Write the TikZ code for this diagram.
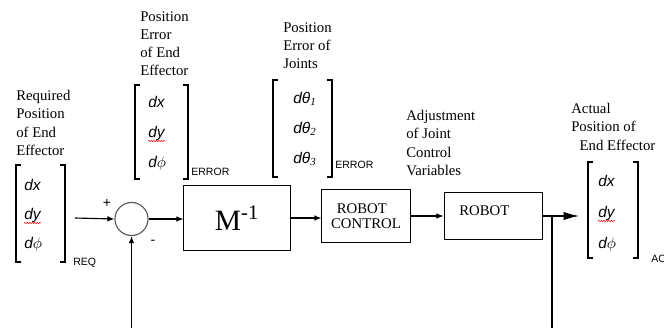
\documentclass[tikz,border=0pt]{standalone}
\usepackage{fontspec}
\setmainfont{Liberation Serif}
\newfontfamily\arialfont{Liberation Sans}
\usetikzlibrary{arrows.meta,decorations.pathmorphing}

\begin{document}
\begin{tikzpicture}[x=0.025cm,y=-0.025cm]
% Styles
\tikzstyle{caption text}=[align=left,anchor=north west,inner sep=0,font=\rmfamily\fontsize{10.5}{13}\selectfont]
\tikzstyle{entry}=[anchor=west,inner sep=0,text height=9pt,text depth=1pt,font=\arialfont\itshape\fontsize{11}{13}\selectfont]
\tikzstyle{tag}=[anchor=west,inner sep=0,font=\arialfont\fontsize{7.5}{9}\selectfont]
\tikzstyle{sign}=[inner sep=0,font=\arialfont\fontsize{10}{12}\selectfont]
\tikzstyle{bracket}=[line width=1.4pt]
\tikzstyle{block}=[draw,line width=0.7pt,inner sep=0]
\tikzstyle{signal}=[line width=0.8pt,-{Latex[length=5pt,width=4pt]}]
\tikzstyle{spell}=[red,line width=0.35pt,decorate,decoration={snake,amplitude=0.45pt,segment length=1.8pt}]

\useasboundingbox (0,0) rectangle (664,328);

% the brackets of the vectors
\foreach \l/\r/\t/\b in {16/65/165/262,135/188/85/179,273/332/80/177,588/638/162/258} {
\draw[bracket] (\l+5,\t) -- (\l,\t) -- (\l,\b) -- (\l+5,\b);
\draw[bracket] (\r-5,\t) -- (\r,\t) -- (\r,\b) -- (\r-5,\b);
}

% entries dx, dy, dphi
\foreach \v/\x/\ya/\yb/\yc in {req/24/185/214/243,perr/148/102/132/162,act/598/181/212/243} {
\node[entry] (\v-x) at (\x,\ya) {dx};
\node[entry] (\v-y) at (\x,\yb) {dy};
\node[entry] (\v-p) at (\x,\yc) {d$\phi$};
\draw[spell] ([yshift=-2.4pt]\v-y.base west) -- ([yshift=-2.4pt]\v-y.base east);
}
% joint entries
\foreach \i/\y in {1/98,2/128,3/158} {
\node[entry] (jnt-\i) at (293,\y) {dθ\textsubscript{\rmfamily\itshape\i}};
}

\node[tag] (req-tag) at (73,263) {REQ};
\node[tag] (perr-tag) at (191,172) {ERROR};
\node[tag] (jnt-tag) at (335,165) {ERROR};
\node[tag] (act-tag) at (651,259) {AC};

% captions
\node[caption text] (req-cap) at (16,90) {Required\\Position\\of End\\Effector};
\node[caption text] (perr-cap) at (140,11) {Position\\Error\\of End\\Effector};
\node[caption text] (jnt-cap) at (283,22) {Position\\Error of\\Joints};
\node[caption text] (adj-cap) at (406,110) {Adjustment\\of Joint\\Control\\Variables};
\node[caption text] (act-cap) at (571,103) {Actual\\Position of\\\hspace*{6pt}End Effector};

% the blocks
\node[block,circle,draw=black!65,line width=0.8pt,minimum size=23.5pt] (sum) at (131.5,219) {};
\node[sign] (plus) at (107,203) {+};
\node[sign] (minus) at (153,242) {-};
\node[block,minimum width=75.4pt,minimum height=46.9pt,font=\fontsize{21}{24}\selectfont] (minv) at (237,218) {M\textsuperscript{-1}};
\node[block,minimum width=62.6pt,minimum height=37pt,align=left,font=\fontsize{10.5}{11}\selectfont] (ctrl) at (366,216) {\hspace*{4pt}ROBOT\\CONTROL};
\node[block,minimum width=69.7pt,minimum height=34.1pt] (robot) at (493,216) {};
\node[anchor=west,inner sep=0,font=\fontsize{10.5}{12}\selectfont] (robot-txt) at (459,211) {ROBOT};

% signal path
\coordinate (feed-in) at (75,218);
\coordinate (act-in) at (579,216);
\coordinate (fb-left) at (131.5,328);
\coordinate (fb-right) at (552,328);

\draw[signal] (feed-in) -- (sum.west);
\draw[signal] (sum.east) -- (sum.east -| minv.west);
\draw[signal] (minv.east) -- (minv.east -| ctrl.west);
\draw[signal] (ctrl.east) -- (ctrl.east -| robot.west);
\draw[line width=0.8pt,-{Latex[length=11pt,width=6pt]}] (robot.east) -- (act-in);

% feedback
\draw[line width=0.8pt] (robot.east -| fb-right) -- (fb-right);
\draw[signal,line width=1pt] (fb-left) -- (sum.south);

\end{tikzpicture}
\end{document}
